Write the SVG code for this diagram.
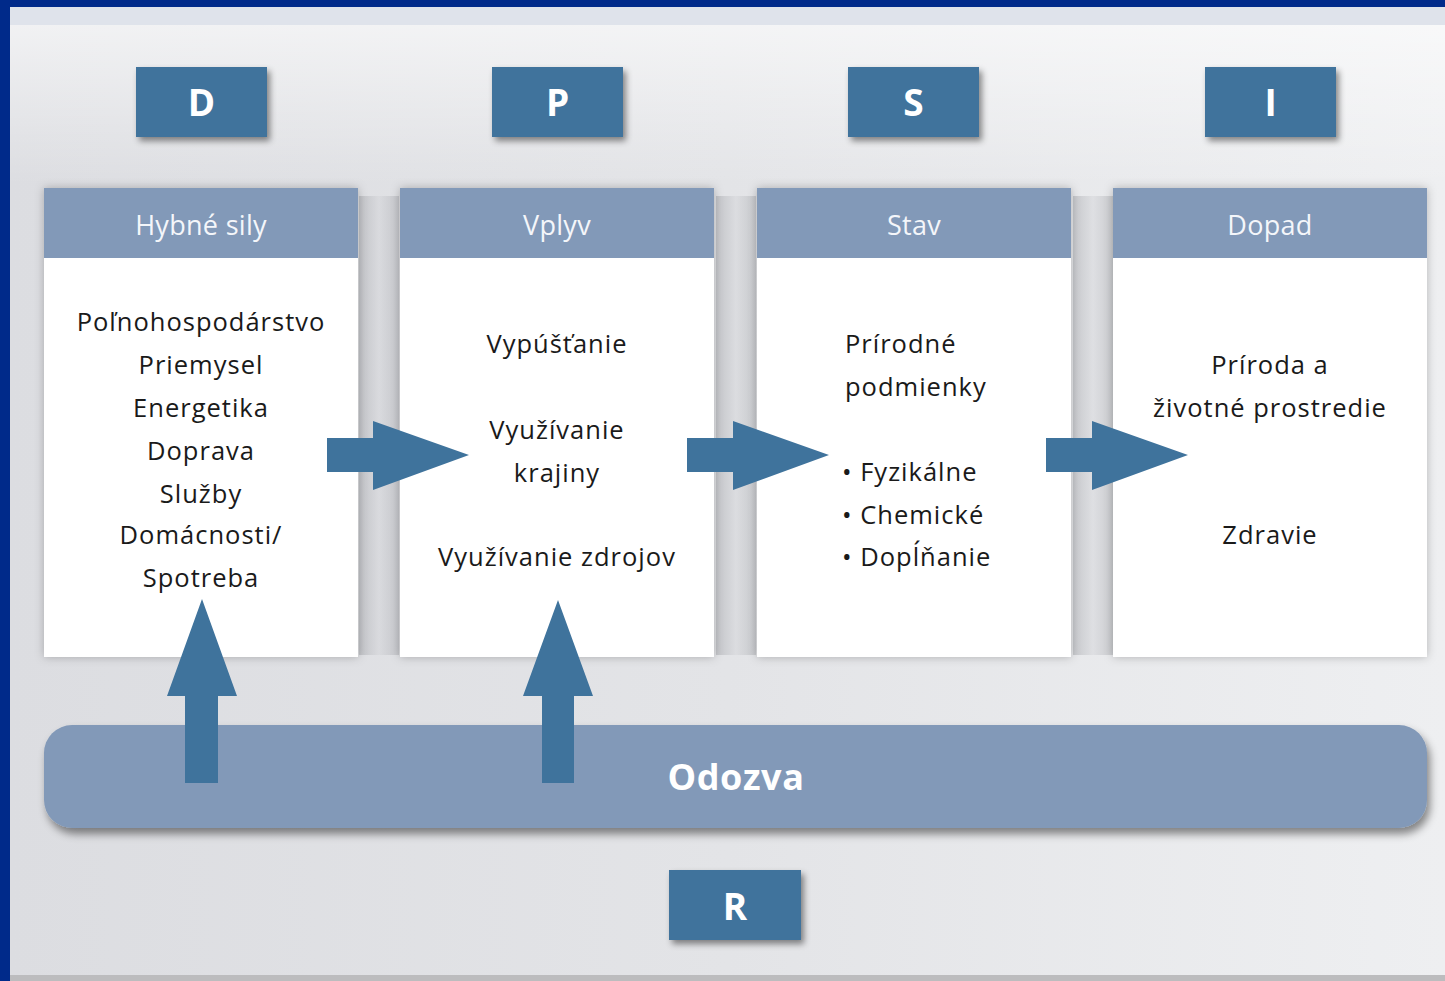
<svg xmlns="http://www.w3.org/2000/svg" width="1445" height="981" viewBox="0 0 1445 981">
  <defs>
    <style>
      .letter { fill: #3f739c; }
      .letterText { font-family: "Open Sans", "Liberation Sans", sans-serif; font-weight: bold; font-size: 37px; fill: #ffffff; text-anchor: middle; }
      .head { fill: #8299b8; }
      .headText { font-family: "Open Sans", "Liberation Sans", sans-serif; font-size: 27px; letter-spacing: 0.3px; fill: #f4f6fa; text-anchor: middle; }
      .body { fill: #ffffff; }
      .bodyText { font-family: "Open Sans", "Liberation Sans", sans-serif; font-size: 25.5px; letter-spacing: 1px; fill: #1a1a1a; }
      .arrow { fill: #3f739c; }
    </style>
    <linearGradient id="bg" x1="0" y1="0" x2="1" y2="0">
      <stop offset="0" stop-color="#dcdde1"/>
      <stop offset="0.5" stop-color="#e3e4e7"/>
      <stop offset="1" stop-color="#eeeff1"/>
    </linearGradient>
    <linearGradient id="topGlow" x1="0" y1="0" x2="0" y2="1">
      <stop offset="0" stop-color="#ffffff" stop-opacity="0.6"/>
      <stop offset="1" stop-color="#ffffff" stop-opacity="0"/>
    </linearGradient>
    <linearGradient id="gap" x1="0" y1="0" x2="1" y2="0">
      <stop offset="0" stop-color="#9c9ea3"/>
      <stop offset="0.5" stop-color="#d2d3d7"/>
      <stop offset="1" stop-color="#a4a6ab"/>
    </linearGradient>
    <filter id="shadow" x="-10%" y="-10%" width="130%" height="140%">
      <feDropShadow dx="3" dy="4" stdDeviation="3" flood-color="#000000" flood-opacity="0.45"/>
    </filter>
    <filter id="softShadow" x="-10%" y="-10%" width="120%" height="130%">
      <feDropShadow dx="0" dy="0" stdDeviation="5" flood-color="#000000" flood-opacity="0.25"/>
    </filter>
    <filter id="barShadow" x="-5%" y="-20%" width="110%" height="150%">
      <feDropShadow dx="3" dy="6" stdDeviation="4" flood-color="#000000" flood-opacity="0.45"/>
    </filter>
  </defs>

  <!-- frame and backdrop -->
  <rect x="0" y="0" width="1445" height="981" fill="#002a8a"/>
  <rect x="10" y="7" width="1435" height="974" fill="url(#bg)"/>
  <rect x="10" y="7" width="1435" height="18" fill="#dfe3eb"/>
  <rect x="10" y="25" width="1435" height="160" fill="url(#topGlow)"/>
  <rect x="10" y="975" width="1435" height="6" fill="#bcbcbe"/>

  <!-- shaded gaps between columns -->
  <rect x="359" y="196" width="40" height="459" fill="url(#gap)" opacity="0.45"/>
  <rect x="716" y="196" width="40" height="459" fill="url(#gap)" opacity="0.45"/>
  <rect x="1073" y="196" width="40" height="459" fill="url(#gap)" opacity="0.45"/>

  <!-- D -->
  <g id="node-d">
    <rect class="letter" x="136" y="67" width="131" height="70" filter="url(#shadow)"/>
    <text class="letterText" x="201.5" y="116">D</text>
  </g>
  <!-- P -->
  <g id="node-p">
    <rect class="letter" x="492" y="67" width="131" height="70" filter="url(#shadow)"/>
    <text class="letterText" x="557.5" y="116">P</text>
  </g>
  <!-- S -->
  <g id="node-s">
    <rect class="letter" x="848" y="67" width="131" height="70" filter="url(#shadow)"/>
    <text class="letterText" x="913.5" y="116">S</text>
  </g>
  <!-- I -->
  <g id="node-i">
    <rect class="letter" x="1205" y="67" width="131" height="70" filter="url(#shadow)"/>
    <text class="letterText" x="1270.5" y="116">I</text>
  </g>

  <!-- Hybné sily -->
  <g id="node-hybne-sily">
    <rect class="body" x="44" y="188" width="314" height="469" filter="url(#softShadow)"/>
    <rect class="head" x="44" y="188" width="314" height="70"/>
    <text class="headText" x="201" y="235">Hybné sily</text>
    <g class="bodyText" text-anchor="middle">
      <text x="201" y="331">Poľnohospodárstvo</text>
      <text x="201" y="374">Priemysel</text>
      <text x="201" y="417">Energetika</text>
      <text x="201" y="460">Doprava</text>
      <text x="201" y="503">Služby</text>
      <text x="201" y="544">Domácnosti/</text>
      <text x="201" y="587">Spotreba</text>
    </g>
  </g>

  <!-- Vplyv -->
  <g id="node-vplyv">
    <rect class="body" x="400" y="188" width="314" height="469" filter="url(#softShadow)"/>
    <rect class="head" x="400" y="188" width="314" height="70"/>
    <text class="headText" x="557" y="235">Vplyv</text>
    <g class="bodyText" text-anchor="middle">
      <text x="557" y="353">Vypúšťanie</text>
      <text x="557" y="439">Využívanie</text>
      <text x="557" y="482">krajiny</text>
      <text x="557" y="566">Využívanie zdrojov</text>
    </g>
  </g>

  <!-- Stav -->
  <g id="node-stav">
    <rect class="body" x="757" y="188" width="314" height="469" filter="url(#softShadow)"/>
    <rect class="head" x="757" y="188" width="314" height="70"/>
    <text class="headText" x="914" y="235">Stav</text>
    <g class="bodyText">
      <text x="845" y="353">Prírodné</text>
      <text x="845" y="396">podmienky</text>
      <text x="842" y="481">• Fyzikálne</text>
      <text x="842" y="524">• Chemické</text>
      <text x="842" y="566">• Dopĺňanie</text>
    </g>
  </g>

  <!-- Dopad -->
  <g id="node-dopad">
    <rect class="body" x="1113" y="188" width="314" height="469" filter="url(#softShadow)"/>
    <rect class="head" x="1113" y="188" width="314" height="70"/>
    <text class="headText" x="1270" y="235">Dopad</text>
    <g class="bodyText" text-anchor="middle">
      <text x="1270" y="374">Príroda a</text>
      <text x="1270" y="417">životné prostredie</text>
      <text x="1270" y="544">Zdravie</text>
    </g>
  </g>

  <!-- Odozva -->
  <g id="node-odozva">
    <rect x="44" y="725" width="1383" height="103" rx="28" ry="28" fill="#8299b8" filter="url(#barShadow)"/>
    <text x="736" y="790" font-family="Open Sans, Liberation Sans, sans-serif" font-weight="bold" font-size="36" letter-spacing="0.6" fill="#ffffff" text-anchor="middle">Odozva</text>
  </g>

  <!-- R -->
  <g id="node-r">
    <rect class="letter" x="669" y="870" width="132" height="70" filter="url(#shadow)"/>
    <text class="letterText" x="735" y="920">R</text>
  </g>

  <!-- connectors -->
  <g id="connectors">
    <polygon class="arrow" points="327,438 373,438 373,421 469,455 373,490 373,472 327,472"/>
    <polygon class="arrow" points="687,438 733,438 733,421 829,455 733,490 733,472 687,472"/>
    <polygon class="arrow" points="1046,438 1092,438 1092,421 1188,455 1092,490 1092,472 1046,472"/>
    <polygon class="arrow" points="185,783 185,696 167,696 202,599 237,696 218,696 218,783"/>
    <polygon class="arrow" points="542,783 542,696 523,696 558,600 593,696 574,696 574,783"/>
  </g>
</svg>
